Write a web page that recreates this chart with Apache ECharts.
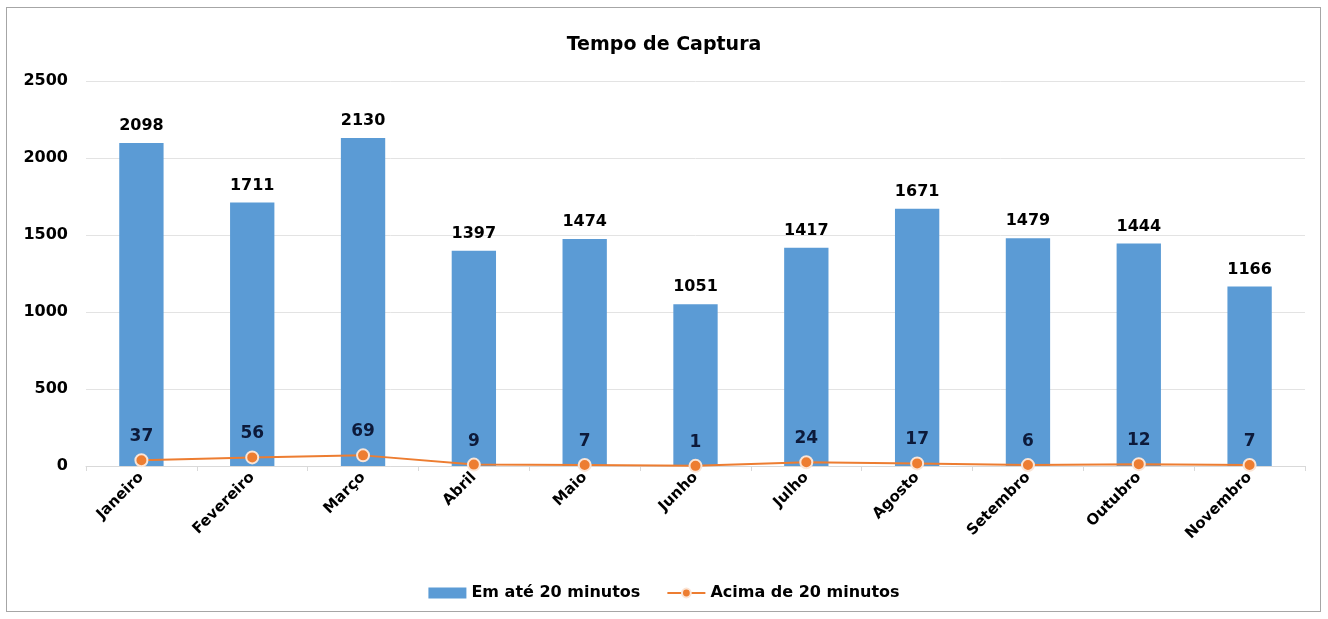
<!DOCTYPE html>
<html>
<head>
<meta charset="utf-8">
<script src="https://cdn.jsdelivr.net/npm/echarts@6/dist/echarts.min.js"></script>
<style>
  html, body { margin: 0; padding: 0; background: #fff; }
  #frame {
    position: absolute;
    left: 6px; top: 7px;
    width: 1313px; height: 603px;
    border: 1px solid #a6a6a6;
  }
  #main { position: absolute; left: 0; top: 0; width: 1328px; height: 619px; }
</style>
</head>
<body>
<div id="frame"></div>
<div id="main"></div>
<script>
  // dados do gráfico
  var meses = ['Janeiro', 'Fevereiro', 'Março', 'Abril', 'Maio', 'Junho', 'Julho', 'Agosto', 'Setembro', 'Outubro', 'Novembro'];
  var ateVinte = [2098, 1711, 2130, 1397, 1474, 1051, 1417, 1671, 1479, 1444, 1166];
  var acimaVinte = [37, 56, 69, 9, 7, 1, 24, 17, 6, 12, 7];
  var yTicks = [0, 500, 1000, 1500, 2000, 2500];

  var fonte = '"DejaVu Sans", Verdana, sans-serif';
  var myChart = echarts.init(document.getElementById('main'));

  var option = {
    textStyle: { fontFamily: fonte },
    title: {
      text: 'Tempo de Captura',
      left: 'center',
      top: 31,
      textStyle: { color: '#000', fontWeight: 'bold', fontSize: 19, fontFamily: fonte }
    },
    legend: {
      bottom: 13,
      left: 'center',
      itemGap: 26,
      itemWidth: 38,
      itemHeight: 11,
      textStyle: { color: '#000', fontWeight: 'bold', fontSize: 16, fontFamily: fonte },
      data: [
        { name: 'Em até 20 minutos', icon: 'rect', itemStyle: { color: '#5B9BD5' } },
        { name: 'Acima de 20 minutos' }
      ]
    },
    grid: {
      left: 86,
      right: 23,
      top: 81,
      bottom: 153
    },
    xAxis: {
      type: 'category',
      data: meses,
      axisLine: { lineStyle: { color: '#d9d9d9' } },
      axisTick: { show: true, alignWithLabel: false, length: 5, lineStyle: { color: '#d9d9d9' } },
      axisLabel: {
        rotate: 45,
        interval: 0,
        color: '#000',
        fontWeight: 'bold',
        fontSize: 15,
        margin: 9
      }
    },
    yAxis: {
      type: 'value',
      min: yTicks[0],
      max: yTicks[yTicks.length - 1],
      interval: 500,
      axisLine: { show: false },
      axisTick: { show: false },
      splitLine: { lineStyle: { color: '#e3e3e3' } },
      axisLabel: {
        color: '#000', fontWeight: 'bold', fontSize: 16, margin: 18,
        formatter: function (v) { return String(v); }
      }
    },
    series: [
      {
        name: 'Em até 20 minutos',
        type: 'bar',
        data: ateVinte,
        barWidth: '40%',
        itemStyle: { color: '#5B9BD5' },
        label: {
          show: true,
          position: 'top',
          distance: 9,
          color: '#000',
          fontWeight: 'bold',
          fontSize: 16
        }
      },
      {
        name: 'Acima de 20 minutos',
        type: 'line',
        data: acimaVinte,
        symbol: 'circle',
        symbolSize: 12,
        itemStyle: { color: '#ED7D31', borderColor: '#fbe5d6', borderWidth: 2 },
        lineStyle: { color: '#ED7D31', width: 2 },
        label: {
          show: true,
          position: 'top',
          distance: 8,
          color: '#0d1a3a',
          fontWeight: 'bold',
          fontSize: 17
        },
        z: 5
      }
    ]
  };

  myChart.setOption(option);
</script>
</body>
</html>
